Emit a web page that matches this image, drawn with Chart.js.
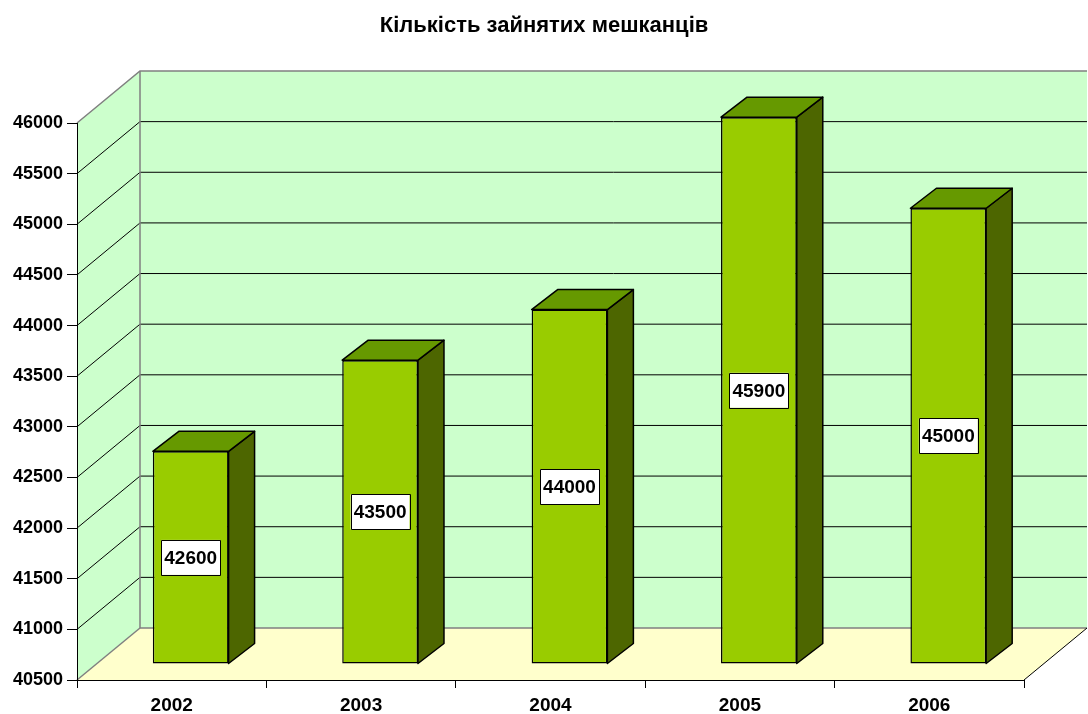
<!DOCTYPE html>
<html>
<head>
<meta charset="utf-8">
<script src="https://cdn.jsdelivr.net/npm/chart.js@4.4.1/dist/chart.umd.min.js"></script>
<style>
  html, body { margin: 0; padding: 0; background: #fff; }
  #wrap { width: 1088px; height: 714px; }
</style>
</head>
<body>
<div id="wrap"><canvas id="chart"></canvas></div>
<script>
// Дані
const years = ['2002', '2003', '2004', '2005', '2006'];
const employed = [42600, 43500, 44000, 45900, 45000];
const yMin = 40500;
const yMax = 46000;
const yStep = 500;
const chartTitle = 'Кількість зайнятих мешканців';

// псевдо-3D: глибина стін і зсув стовпчиків
const DEPTH_X = 63, DEPTH_Y = -52;
const SHIFT_X = 19, SHIFT_Y = -16;
const BAR_DX = 26, BAR_DY = -20;
const FONT = '"Liberation Sans", Arial, sans-serif';

function poly(ctx, pts, fill, stroke, lw) {
    ctx.beginPath();
    ctx.moveTo(pts[0][0], pts[0][1]);
    for (let i = 1; i < pts.length; i++) ctx.lineTo(pts[i][0], pts[i][1]);
    ctx.closePath();
    if (fill) { ctx.fillStyle = fill; ctx.fill(); }
    if (stroke) { ctx.strokeStyle = stroke; ctx.lineWidth = lw || 1; ctx.stroke(); }
}

function line(ctx, pts, color, lw) {
    ctx.beginPath();
    ctx.moveTo(pts[0][0], pts[0][1]);
    for (let i = 1; i < pts.length; i++) ctx.lineTo(pts[i][0], pts[i][1]);
    ctx.strokeStyle = color;
    ctx.lineWidth = lw;
    ctx.stroke();
}

const walls3d = {
    id: 'walls3d',
    afterLayout(chart) {
        // заголовок по центру всього полотна
        if (chart.titleBlock) {
            chart.titleBlock.left = 0;
            chart.titleBlock.right = chart.width;
            chart.titleBlock.width = chart.width;
        }
    },
    beforeDraw(chart) {
        const ctx = chart.ctx;
        const xs = chart.scales.x, ys = chart.scales.y;
        const L = xs.left, R = xs.right, T = ys.top, B = ys.bottom;
        ctx.save();
        // бічна стіна, задня стіна, підлога
        poly(ctx, [[L, T], [L + DEPTH_X, T + DEPTH_Y], [L + DEPTH_X, B + DEPTH_Y], [L, B]], '#CCFFCC');
        poly(ctx, [[L + DEPTH_X, T + DEPTH_Y], [R + DEPTH_X, T + DEPTH_Y], [R + DEPTH_X, B + DEPTH_Y], [L + DEPTH_X, B + DEPTH_Y]], '#CCFFCC');
        poly(ctx, [[L, B], [L + DEPTH_X, B + DEPTH_Y], [R + DEPTH_X, B + DEPTH_Y], [R, B]], '#FFFFCC');
        // лінії сітки
        ys.ticks.forEach(t => {
            if (t.value === yMin || t.value === yMax) return;
            const py = ys.getPixelForValue(t.value);
            line(ctx, [[L, py], [L + DEPTH_X, py + DEPTH_Y], [R + DEPTH_X, py + DEPTH_Y]], '#000', 1);
        });
        // краї
        line(ctx, [[L, T], [L + DEPTH_X, T + DEPTH_Y], [R + DEPTH_X, T + DEPTH_Y]], '#808080', 1.5);
        line(ctx, [[L + DEPTH_X, T + DEPTH_Y], [L + DEPTH_X, B + DEPTH_Y], [R + DEPTH_X, B + DEPTH_Y]], '#808080', 1.5);
        line(ctx, [[L, B], [L + DEPTH_X, B + DEPTH_Y]], '#808080', 1.5);
        line(ctx, [[R, B], [R + DEPTH_X, B + DEPTH_Y]], '#000', 1);
        ctx.restore();
    },
    beforeDatasetsDraw(chart) {
        chart.ctx.save();
        chart.ctx.translate(SHIFT_X, SHIFT_Y);
    },
    afterDatasetsDraw(chart) {
        const ctx = chart.ctx;
        const meta = chart.getDatasetMeta(0);
        meta.data.forEach((bar, i) => {
            const p = bar.getProps(['x', 'y', 'base', 'width'], true);
            const l = p.x - p.width / 2, r = p.x + p.width / 2;
            const top = Math.min(p.y, p.base), base = Math.max(p.y, p.base);
            ctx.lineJoin = 'round';
            // бічна грань
            poly(ctx, [[r, top], [r + BAR_DX, top + BAR_DY], [r + BAR_DX, base + BAR_DY], [r, base]], '#4D6600', '#000', 1.5);
            // верхня грань
            poly(ctx, [[l, top], [l + BAR_DX, top + BAR_DY], [r + BAR_DX, top + BAR_DY], [r, top]], '#669900', '#000', 1.5);
            // підпис значення
            const cy = (top + base) / 2;
            const bw = 59, bh = 35;
            ctx.fillStyle = '#fff';
            ctx.fillRect(p.x - bw / 2, cy - bh / 2, bw, bh);
            ctx.strokeStyle = '#000';
            ctx.lineWidth = 1;
            ctx.strokeRect(Math.round(p.x - bw / 2) + 0.5, Math.round(cy - bh / 2) + 0.5, bw, bh);
            ctx.fillStyle = '#000';
            ctx.font = 'bold 19px ' + FONT;
            ctx.textAlign = 'center';
            ctx.textBaseline = 'middle';
            ctx.fillText(String(employed[i]), p.x, cy + 1);
        });
        ctx.restore();
    }
};

new Chart(document.getElementById('chart'), {
    type: 'bar',
    data: {
        labels: years,
        datasets: [{
            data: employed,
            base: yMin,
            backgroundColor: '#99CC00',
            borderColor: '#000',
            borderWidth: 1.5,
            borderSkipped: false,
            barPercentage: 0.5,
            categoryPercentage: 0.8,
            clip: false
        }]
    },
    options: {
        responsive: true,
        maintainAspectRatio: false,
        animation: false,
        layout: { padding: { left: 0, right: 64, top: 0, bottom: 0 } },
        plugins: {
            legend: { display: false },
            tooltip: { enabled: false },
            title: {
                display: true,
                text: chartTitle,
                color: '#000',
                font: { family: FONT, size: 22, weight: 'bold' },
                padding: { top: 13, bottom: 83.6 }
            }
        },
        scales: {
            x: {
                afterFit: s => { s.height = 34; },
                grid: { offset: true, drawOnChartArea: false, tickLength: 8, color: '#000' },
                border: { color: '#000', width: 1 },
                ticks: { color: '#000', padding: 6, font: { family: FONT, size: 19, weight: 'bold' } }
            },
            y: {
                min: yMin,
                max: yMax,
                afterFit: s => { s.width = 77; },
                grid: { drawOnChartArea: false, tickLength: 10, color: '#000' },
                border: { color: '#000', width: 1 },
                ticks: {
                    stepSize: yStep,
                    color: '#000',
                    padding: 4,
                    font: { family: FONT, size: 18, weight: 'bold' },
                    callback: v => String(v)
                }
            }
        }
    },
    plugins: [walls3d]
});
</script>
</body>
</html>
